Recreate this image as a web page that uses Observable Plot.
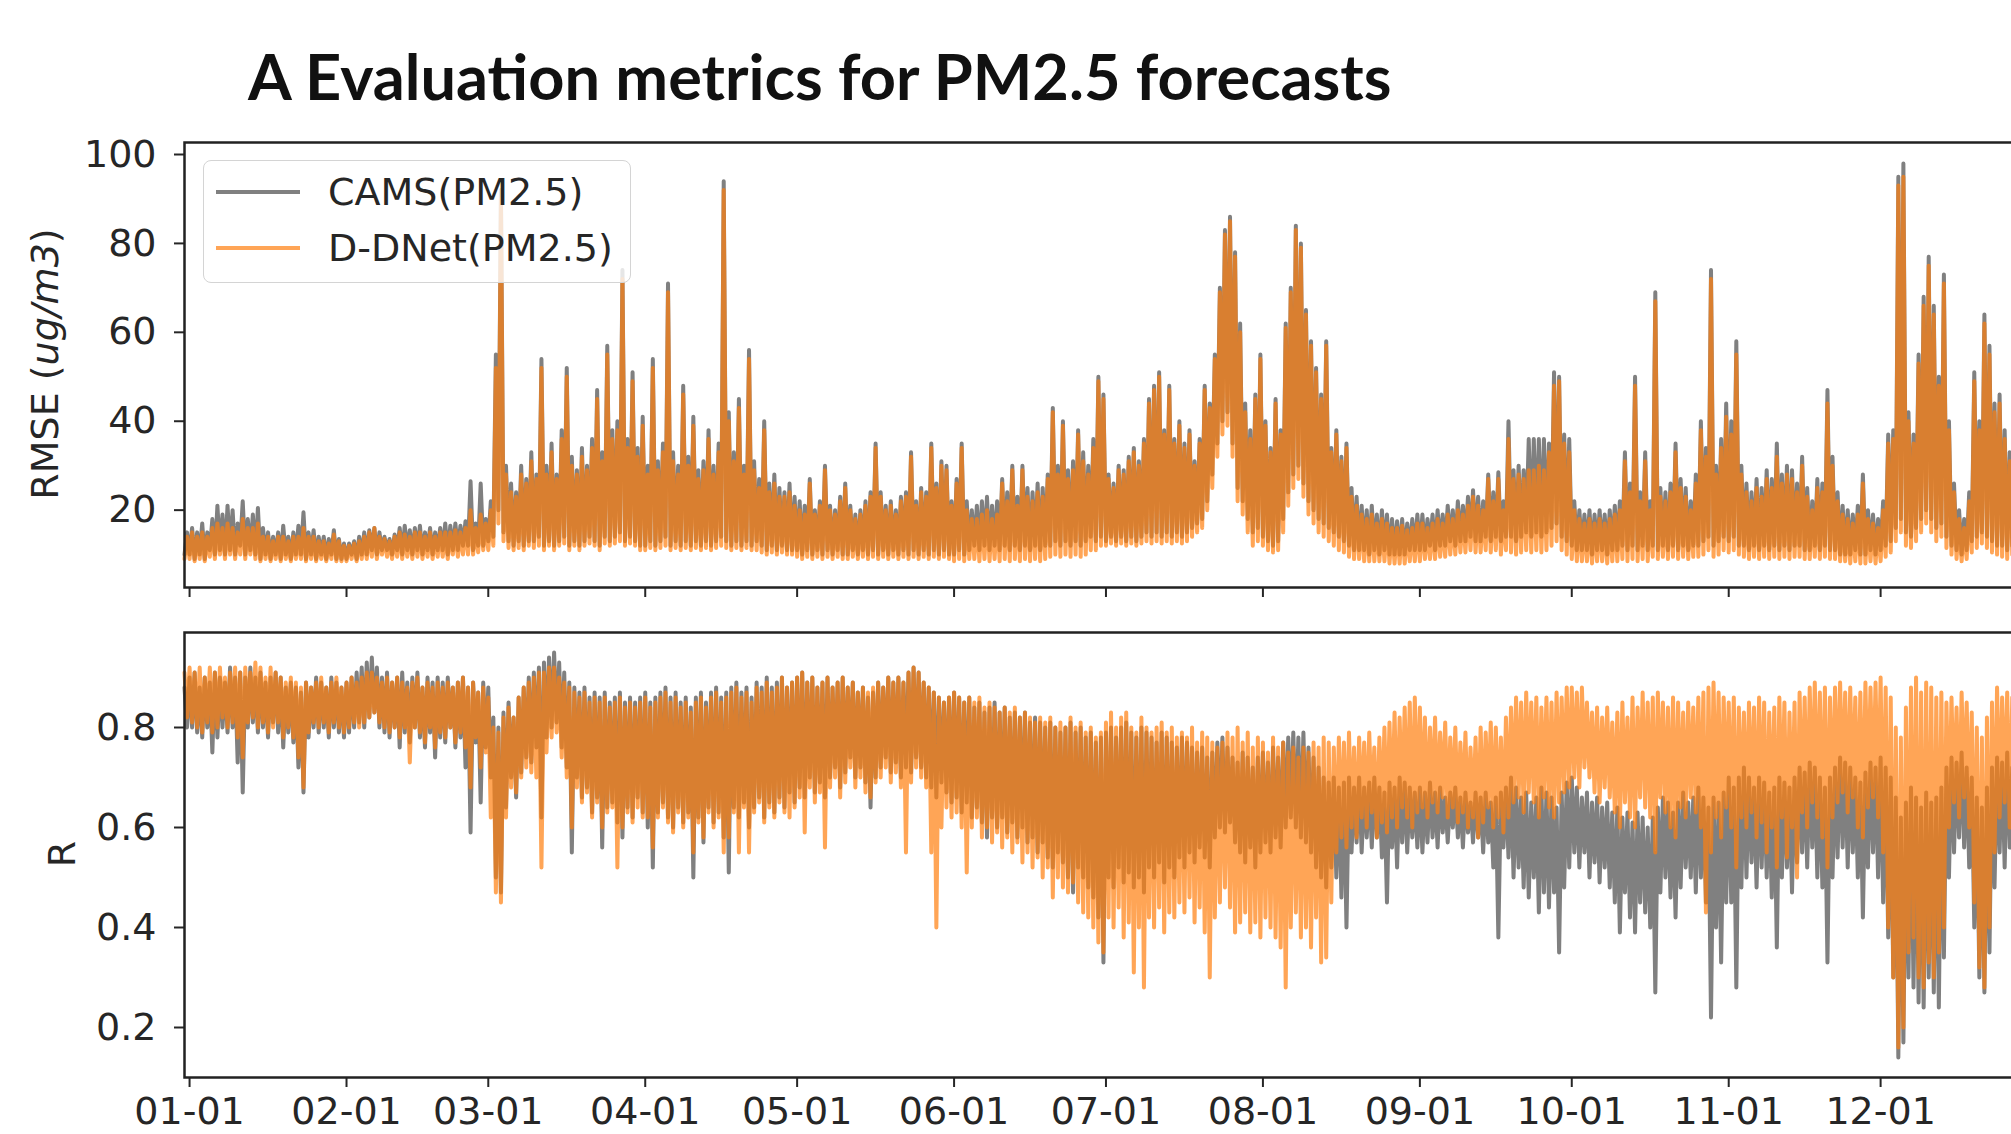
<!DOCTYPE html>
<html>
<head>
<meta charset="utf-8">
<script src="https://cdn.jsdelivr.net/npm/d3@7"></script>
<script src="https://cdn.jsdelivr.net/npm/@observablehq/plot@0.6"></script>
<style>
  html, body { margin: 0; padding: 0; background: #fff; overflow: hidden; }
  #fig { position: relative; width: 2011px; height: 1134px; overflow: hidden; background: #fff;
         font-family: "DejaVu Sans", sans-serif; color: #262626; }
  #title { position: absolute; left: 248px; top: 38px; font-family: Lato, "Open Sans", sans-serif;
           font-weight: 700; font-size: 62px; white-space: nowrap; color: #111; line-height: 1.2; }
  .panel { position: absolute; left: 0; width: 2060px; }
  .panel svg { max-width: none !important; display: block; }
  .ylabel { position: absolute; transform: translate(-50%, -50%) rotate(-90deg); font-size: 38px;
            white-space: nowrap; line-height: 1; }
  #legend { position: absolute; left: 203px; top: 160px; width: 426px; height: 121px;
            border: 1.5px solid #d4d4d4; border-radius: 8px; background: rgba(255,255,255,0.8); }
  .entry { position: absolute; left: 0; height: 44px; width: 100%; }
  .entry .swatch { position: absolute; left: 12px; top: 20px; width: 84px; height: 4px; }
  .entry .name { position: absolute; left: 124px; top: 0; font-size: 38px; line-height: 44px; white-space: nowrap; }
</style>
</head>
<body>
<div id="fig">
  <div id="title">A Evaluation metrics for PM2.5 forecasts</div>
  <div class="panel" id="rmsePanel" style="top:0px"></div>
  <div class="panel" id="rPanel" style="top:600px"></div>
  <div class="ylabel" style="left:45px; top:364px">RMSE (<i>ug/m3</i>)</div>
  <div class="ylabel" style="left:62px; top:854px">R</div>
  <div id="legend">
    <div class="entry" style="top:9px"><div class="swatch" style="background:#808080"></div><div class="name">CAMS(PM2.5)</div></div>
    <div class="entry" style="top:65px"><div class="swatch" style="background:#ff7f0e; opacity:0.7"></div><div class="name">D-DNet(PM2.5)</div></div>
  </div>
</div>
<script>
// Twice-daily samples starting 2020-12-31 00:00 UTC (one pair of values per day).
const seriesStart = Date.UTC(2020, 11, 31);
const stepHours = 12;

// RMSE (ug/m3), CAMS forecasts
const rmseCams = [
  10,15,
  10,16, 9,15, 10,17, 9,15, 11,18, 10,21, 11,19, 10,21, 11,20, 10,17, 12,22, 10,18, 11,19, 10,20.5, 9,16, 10,15, 9,14, 10,15, 9,16.5, 10,14, 9,15, 10,16.5, 10,19.5, 9,15, 10,15.5, 9,14, 10,14, 9,13.5, 10,15.5, 9,13.5, 9,12.5,
  9,12.5, 10,13, 9,14, 10,15, 10,15.5, 11,16, 10,15, 11,14, 11,13.5, 10,14.5, 11,16, 10,16.5, 11,15.5, 10,16, 11,16.5, 10,15, 11,16, 10,15, 11,16, 11,17, 10,16.5, 11,17, 11,16.5, 12,17.5, 12,26.5, 11,17, 12,26, 12,18,
  13,22, 14,55, 20,92, 15,30, 13,26, 12,24, 13,30, 12,27, 13,33, 13,28, 14,54, 12,30, 13,35, 12,28, 13,38, 14,52, 12,32, 13,29, 12,34, 13,30, 14,36, 13,47, 12,33, 14,57, 13,38, 14,40, 15,74, 13,36, 14,51, 13,34, 12,41,
  12,30, 13,54, 12,31, 13,35, 14,71, 12,33, 13,30, 12,48, 13,32, 12,41, 13,29, 12,31, 13,38, 12,30, 13,35, 14,94, 13,42, 12,33, 13,45, 12,30, 13,56, 12,31, 13,27, 12,40, 11,26, 12,28, 11,25, 12,24, 11,26, 11,23,
  11,22, 10,21, 11,27, 10,20, 11,22, 10,30, 11,21, 10,20, 11,23, 10,26, 10,21, 11,19, 10,20, 11,22, 10,24, 11,35, 10,24, 11,21, 10,22, 11,20, 10,23, 11,24, 10,33, 11,22, 10,25, 11,24, 10,35, 11,26, 10,31, 11,30, 10,22,
  10,27, 11,35, 10,22, 11,20, 12,21, 11,22, 12,23, 11,21, 12,22, 11,27, 12,24, 11,30, 12,23, 11,30, 12,25, 11,24, 12,26, 11,25, 12,28, 12,43, 13,30, 12,40, 13,29, 12,31, 13,38, 12,33, 13,30, 14,36, 13,50, 14,46,
  13,28, 14,26, 13,30, 14,29, 13,32, 14,34, 13,31, 14,36, 15,45, 14,48, 15,51, 14,38, 15,48, 14,36, 15,40, 14,35, 15,38, 16,31, 17,36, 18,48, 22,44, 28,55, 35,70, 40,83, 42,86, 35,78, 25,62, 22,44, 18,38, 15,46, 16,55,
  14,40, 13,34, 12,45, 13,38, 18,62, 24,70, 28,84, 30,80, 26,65, 22,58, 20,52, 18,46, 17,58, 16,34, 15,38, 14,32, 13,35, 12,25, 11,23, 11,21, 11,20, 10,21, 11,19, 10,20, 11,19, 10,18, 10,17.5, 10,18, 10,17, 11,18, 11,19,
  11,19, 11,18, 12,19, 11,20, 12,19, 12,21, 13,20, 12,22, 13,21, 13,23, 14,24.5, 13,23, 13,22, 14,28, 13,24, 14,28.5, 13,22, 14,40, 14,29, 13,30, 14,29, 15,36, 14,36, 15,36, 14,36, 15,35, 16,51, 17,50, 14,37, 13,36,
  12,22, 11,20, 11,19, 11,20, 10,19, 11,20, 11,19, 10,20, 11,21, 11,22, 12,33, 11,26, 12,50, 11,24, 12,33, 11,22, 12,69, 11,25, 12,24, 11,26, 12,35, 11,27, 12,25, 11,22, 12,28, 12,40, 13,34, 14,74, 12,30, 13,36, 14,44,
  13,40, 14,58, 12,30, 12,26, 11,24, 12,27, 11,25, 12,29, 11,27, 12,35, 11,28, 12,30, 11,29, 12,26, 12,32, 11,25, 11,22, 12,27, 11,26, 12,47, 11,32, 11,24, 10,21, 10,20, 10,19, 11,21, 10,28, 10,20, 11,19, 10,18,
  11,22, 12,37, 13,38, 16,95, 18,98, 15,42, 14,37, 16,55, 18,68, 20,77, 18,66, 16,50, 17,73, 14,40, 12,26, 11,20, 10,18, 11,24, 13,51, 14,40, 15,64, 14,57, 13,44, 12,46, 12,38, 11,33, 12,30
];

// RMSE (ug/m3), D-DNet forecasts
const rmseDdnet = [
  9,14,
  9,15, 8.5,14, 9,15, 8.5,14, 9.5,16, 9,17, 10,16, 9,17, 10,16, 9,15, 10,18, 9,16, 10,16, 9,17, 8.5,14, 9,14, 8.5,13, 9,14, 8.5,14, 9,13, 8.5,14, 9,14, 9,16, 8.5,14, 9,14, 8.5,13, 9,13, 8.5,12.5, 9,14.5, 8.5,13, 8.5,12,
  8.5,12, 9,12.5, 8.5,13, 9,14, 9,15, 9.5,16, 9,14, 10,13.5, 9.5,13, 9,14, 9.5,15, 9,14.5, 9.5,14, 9,15, 9.5,15, 9,14, 9.5,15, 9,14, 9.5,15, 9.5,15, 9,15, 10,15.5, 9.5,15, 10,16, 10,20, 10,16, 10.5,19, 11,17,
  11,20, 12,52, 17,90, 13,28, 11.5,24, 11,23, 11.5,28, 11,26, 12,31, 11.5,27, 12,52, 11,28, 12,33, 11,27, 12,36, 12.5,50, 11,30, 12,28, 11,32, 12,29, 12.5,34, 12,45, 11,31, 12.5,55, 12,36, 12.5,38, 13,72, 12,34, 12.5,49, 12,32, 11,39,
  11,28, 11.5,52, 11,29, 11.5,33, 12,69, 11,31, 11.5,28, 11,46, 11.5,30, 11,39, 11.5,27, 11,29, 11.5,36, 11,28, 11.5,33, 12,92, 11.5,40, 11,31, 11.5,43, 11,28, 11.5,54, 11,29, 11,25, 10.5,38, 10,24, 10.5,26, 10,23, 10.5,23, 10,24, 10,21,
  9.5,20, 9,19, 9.5,26, 9,19, 9.5,21, 9,29, 9.5,20, 9,19, 9.5,22, 9,25, 9,20, 9.5,18, 9,19, 9.5,21, 9,23, 9.5,34, 9,23, 9.5,20, 9,21, 9.5,19, 9,22, 9.5,23, 9,32, 9.5,21, 9,24, 9.5,23, 9,34, 9.5,25, 9,30, 9.5,29, 9,21,
  8.5,26, 9,34, 8.5,20, 9,18, 9,18, 8.5,19, 9,20, 8.5,18, 9,19, 8.5,26, 9,22, 8.5,29, 9,21, 8.5,29, 9,23, 8.5,22, 9,24, 8.5,23, 9,27, 9.5,42, 10,28, 9.5,39, 10,27, 9.5,29, 10,37, 9.5,31, 10,28, 11,34, 11,49, 12,45,
  12,27, 12.5,25, 12,29, 12.5,28, 12,31, 12.5,33, 12,30, 12.5,35, 13,44, 12.5,47, 13,50, 12.5,37, 13,47, 12.5,35, 13,39, 12.5,34, 13,37, 14,30, 15,35, 16,47, 20,43, 25,54, 32,69, 37,82, 39,85, 32,77, 22,60, 19,42, 15,36, 12,45, 13,54,
  12,39, 11,33, 10.5,44, 11,37, 15,61, 21,69, 25,83, 27,79, 23,64, 19,57, 17,51, 15,45, 14,57, 13,33, 12,37, 11,31, 10.5,34, 9.5,23, 9,21, 9,19, 8.5,18, 8.5,19, 8.5,17, 8.5,18, 8.5,17, 8,16, 8,16, 8,16.5, 8,15.5, 8.5,16, 8.5,17,
  8.5,17, 9,16, 9,17, 9,18, 9.5,17, 9.5,19, 10,18, 10,20, 10.5,19, 10.5,21, 11,23, 10.5,21, 10.5,20, 11,27, 10.5,22, 11,27, 10,20, 11,36, 10.5,27, 10,28, 10.5,27, 11,29, 10.5,29, 11,30, 10.5,29, 11,33, 12,48, 13,49, 11,35, 10,33,
  9,20, 8.5,18, 8.5,17, 8.5,18, 8,17, 8.5,18, 8.5,17, 8,18, 8.5,19, 8.5,20, 9,31, 8.5,24, 9,48, 8.5,22, 9,31, 8.5,20, 9.5,67, 9,23, 9.5,22, 9,24, 9.5,33, 9,25, 9.5,23, 9,20, 9.5,26, 9.5,38, 10,32, 11,72, 9.5,28, 10,34, 11,41,
  10.5,37, 11,55, 10,28, 9.5,24, 9,22, 9.5,25, 9,23, 9.5,27, 9,25, 9.5,32, 9,26, 9.5,28, 9,27, 9.5,24, 9.5,30, 9,23, 9,20, 9.5,25, 9,24, 9.5,44, 9,30, 9,22, 8.5,19, 8.5,18, 8,17, 8.5,19, 8,26, 8,18, 8.5,17, 8,16,
  8.5,20, 9.5,35, 10.5,36, 13,93, 15,95, 12,40, 11.5,35, 13,53, 15,66, 17,75, 15,64, 13,48, 14,71, 11.5,38, 10,24, 9,18, 8.5,16, 9,22, 10.5,49, 11.5,38, 12.5,62, 11.5,55, 10.5,42, 10,44, 9.5,36, 9,31, 10,28
];

// Correlation coefficient R, CAMS forecasts
const rCams = [
  0.88,0.80,
  0.90,0.80, 0.91,0.79, 0.88,0.78, 0.90,0.80, 0.89,0.75, 0.91,0.78, 0.90,0.80, 0.89,0.79, 0.92,0.80, 0.90,0.73, 0.91,0.67, 0.90,0.80, 0.92,0.81, 0.90,0.79, 0.91,0.80, 0.89,0.78, 0.90,0.81, 0.91,0.79, 0.90,0.76, 0.88,0.79, 0.89,0.77, 0.88,0.72, 0.87,0.67, 0.89,0.78, 0.88,0.80, 0.90,0.79, 0.89,0.80, 0.88,0.78, 0.90,0.80, 0.89,0.79, 0.88,0.78,
  0.89,0.79, 0.90,0.80, 0.91,0.81, 0.92,0.80, 0.93,0.82, 0.94,0.83, 0.92,0.80, 0.90,0.79, 0.91,0.78, 0.89,0.80, 0.90,0.76, 0.91,0.79, 0.89,0.77, 0.90,0.80, 0.91,0.78, 0.88,0.76, 0.90,0.79, 0.89,0.74, 0.90,0.78, 0.89,0.77, 0.90,0.80, 0.88,0.76, 0.89,0.78, 0.90,0.72, 0.88,0.59, 0.89,0.77, 0.87,0.65, 0.89,0.76,
  0.88,0.70, 0.82,0.50, 0.80,0.47, 0.83,0.64, 0.85,0.70, 0.82,0.66, 0.86,0.71, 0.88,0.74, 0.90,0.73, 0.91,0.76, 0.92,0.62, 0.93,0.78, 0.94,0.80, 0.95,0.81, 0.93,0.76, 0.91,0.72, 0.89,0.55, 0.88,0.70, 0.87,0.66, 0.88,0.68, 0.86,0.63, 0.87,0.66, 0.86,0.56, 0.87,0.64, 0.85,0.65, 0.86,0.61, 0.87,0.58, 0.85,0.64, 0.86,0.62, 0.85,0.66, 0.86,0.63,
  0.87,0.60, 0.85,0.52, 0.86,0.63, 0.87,0.65, 0.88,0.62, 0.86,0.60, 0.87,0.64, 0.85,0.61, 0.86,0.63, 0.84,0.50, 0.86,0.62, 0.87,0.57, 0.85,0.64, 0.87,0.61, 0.88,0.63, 0.86,0.58, 0.87,0.51, 0.88,0.64, 0.89,0.62, 0.87,0.65, 0.88,0.60, 0.86,0.64, 0.89,0.66, 0.88,0.62, 0.90,0.65, 0.88,0.63, 0.89,0.66, 0.90,0.64, 0.88,0.67, 0.89,0.65,
  0.90,0.68, 0.91,0.66, 0.89,0.70, 0.90,0.67, 0.88,0.69, 0.89,0.66, 0.90,0.70, 0.88,0.72, 0.89,0.68, 0.90,0.71, 0.88,0.74, 0.89,0.70, 0.87,0.72, 0.88,0.69, 0.86,0.64, 0.87,0.70, 0.89,0.72, 0.88,0.74, 0.90,0.71, 0.89,0.73, 0.90,0.70, 0.89,0.72, 0.91,0.71, 0.92,0.74, 0.91,0.72, 0.89,0.70, 0.88,0.68, 0.87,0.66, 0.86,0.69, 0.85,0.67, 0.86,0.65,
  0.87,0.66, 0.86,0.63, 0.85,0.65, 0.86,0.62, 0.84,0.64, 0.85,0.61, 0.83,0.58, 0.84,0.62, 0.85,0.60, 0.83,0.62, 0.84,0.59, 0.82,0.61, 0.83,0.58, 0.82,0.60, 0.83,0.57, 0.81,0.58, 0.82,0.55, 0.81,0.57, 0.80,0.54, 0.81,0.52, 0.80,0.55, 0.79,0.53, 0.80,0.50, 0.81,0.47, 0.79,0.52, 0.80,0.50, 0.78,0.48, 0.79,0.46, 0.77,0.42, 0.78,0.33,
  0.79,0.50, 0.80,0.48, 0.78,0.52, 0.80,0.49, 0.81,0.51, 0.79,0.48, 0.78,0.50, 0.80,0.47, 0.79,0.52, 0.78,0.50, 0.77,0.53, 0.79,0.49, 0.78,0.52, 0.77,0.50, 0.76,0.54, 0.78,0.52, 0.77,0.55, 0.76,0.53, 0.75,0.56, 0.76,0.54, 0.74,0.52, 0.75,0.58, 0.77,0.60, 0.78,0.59, 0.76,0.61, 0.74,0.57, 0.73,0.55, 0.75,0.53, 0.74,0.56, 0.72,0.52, 0.74,0.55,
  0.75,0.57, 0.73,0.55, 0.76,0.58, 0.74,0.56, 0.77,0.60, 0.78,0.62, 0.79,0.60, 0.78,0.58, 0.79,0.57, 0.76,0.55, 0.74,0.52, 0.72,0.50, 0.70,0.48, 0.69,0.52, 0.70,0.50, 0.68,0.46, 0.69,0.40, 0.70,0.55, 0.68,0.57, 0.70,0.55, 0.68,0.58, 0.69,0.56, 0.70,0.58, 0.68,0.54, 0.67,0.45, 0.69,0.56, 0.68,0.52, 0.70,0.57, 0.69,0.55, 0.68,0.58, 0.67,0.56,
  0.68,0.55, 0.67,0.57, 0.69,0.58, 0.67,0.56, 0.68,0.59, 0.66,0.57, 0.67,0.60, 0.68,0.58, 0.66,0.56, 0.67,0.59, 0.65,0.57, 0.67,0.58, 0.66,0.55, 0.67,0.57, 0.65,0.52, 0.66,0.38, 0.67,0.56, 0.68,0.54, 0.70,0.50, 0.68,0.52, 0.66,0.48, 0.67,0.46, 0.65,0.50, 0.66,0.43, 0.68,0.47, 0.67,0.44, 0.66,0.47, 0.64,0.35, 0.67,0.48, 0.69,0.52,
  0.70,0.55, 0.68,0.52, 0.66,0.55, 0.67,0.50, 0.65,0.53, 0.66,0.49, 0.64,0.52, 0.65,0.48, 0.63,0.45, 0.64,0.39, 0.62,0.47, 0.63,0.42, 0.61,0.39, 0.63,0.45, 0.62,0.43, 0.60,0.40, 0.62,0.27, 0.64,0.47, 0.66,0.50, 0.65,0.46, 0.63,0.42, 0.65,0.48, 0.67,0.52, 0.65,0.50, 0.66,0.47, 0.68,0.50, 0.66,0.45, 0.64,0.22, 0.66,0.40, 0.65,0.33, 0.67,0.45,
  0.70,0.45, 0.68,0.28, 0.70,0.48, 0.72,0.50, 0.70,0.53, 0.68,0.48, 0.70,0.52, 0.69,0.50, 0.67,0.46, 0.68,0.36, 0.70,0.50, 0.69,0.52, 0.68,0.47, 0.70,0.53, 0.72,0.55, 0.71,0.52, 0.73,0.56, 0.72,0.50, 0.70,0.48, 0.68,0.33, 0.70,0.50, 0.72,0.54, 0.74,0.56, 0.73,0.52, 0.72,0.55, 0.70,0.50, 0.69,0.42, 0.71,0.52, 0.73,0.55, 0.72,0.50,
  0.74,0.45, 0.72,0.38, 0.70,0.30, 0.66,0.14, 0.62,0.17, 0.65,0.30, 0.68,0.28, 0.66,0.25, 0.64,0.24, 0.67,0.30, 0.65,0.27, 0.66,0.24, 0.68,0.34, 0.72,0.50, 0.74,0.55, 0.73,0.58, 0.75,0.56, 0.72,0.52, 0.70,0.40, 0.66,0.30, 0.64,0.27, 0.68,0.35, 0.72,0.48, 0.74,0.55, 0.73,0.52, 0.75,0.56, 0.72,0.50
];

// Correlation coefficient R, D-DNet forecasts
const rDdnet = [
  0.91,0.82,
  0.92,0.81, 0.91,0.80, 0.92,0.79, 0.90,0.81, 0.92,0.79, 0.91,0.80, 0.92,0.82, 0.90,0.80, 0.91,0.81, 0.92,0.78, 0.91,0.74, 0.92,0.81, 0.91,0.82, 0.93,0.80, 0.92,0.81, 0.90,0.79, 0.92,0.80, 0.91,0.81, 0.90,0.78, 0.89,0.80, 0.90,0.78, 0.89,0.74, 0.88,0.68, 0.89,0.79, 0.88,0.81, 0.89,0.80, 0.90,0.81, 0.88,0.79, 0.89,0.81, 0.90,0.80, 0.88,0.79,
  0.89,0.80, 0.90,0.81, 0.89,0.80, 0.90,0.81, 0.91,0.82, 0.91,0.83, 0.90,0.81, 0.89,0.80, 0.90,0.79, 0.89,0.80, 0.90,0.78, 0.89,0.80, 0.88,0.73, 0.89,0.80, 0.90,0.79, 0.88,0.77, 0.89,0.80, 0.88,0.76, 0.89,0.79, 0.88,0.78, 0.89,0.80, 0.88,0.77, 0.89,0.79, 0.90,0.76, 0.88,0.68, 0.89,0.78, 0.87,0.72, 0.88,0.75,
  0.86,0.62, 0.80,0.47, 0.79,0.45, 0.82,0.62, 0.84,0.68, 0.82,0.67, 0.86,0.70, 0.88,0.72, 0.89,0.71, 0.90,0.70, 0.91,0.52, 0.91,0.75, 0.92,0.78, 0.92,0.79, 0.90,0.74, 0.89,0.70, 0.88,0.60, 0.87,0.68, 0.86,0.65, 0.87,0.67, 0.85,0.62, 0.86,0.65, 0.85,0.60, 0.86,0.63, 0.84,0.64, 0.85,0.52, 0.86,0.60, 0.84,0.63, 0.85,0.61, 0.84,0.64, 0.85,0.62,
  0.86,0.62, 0.84,0.56, 0.85,0.62, 0.86,0.64, 0.87,0.61, 0.85,0.59, 0.86,0.63, 0.84,0.60, 0.85,0.62, 0.83,0.55, 0.85,0.61, 0.86,0.58, 0.84,0.63, 0.86,0.60, 0.87,0.62, 0.85,0.55, 0.86,0.58, 0.87,0.63, 0.88,0.55, 0.86,0.64, 0.87,0.55, 0.85,0.63, 0.88,0.65, 0.87,0.61, 0.89,0.64, 0.87,0.62, 0.88,0.65, 0.90,0.63, 0.88,0.62, 0.89,0.64,
  0.90,0.66, 0.91,0.59, 0.89,0.68, 0.90,0.65, 0.88,0.67, 0.89,0.56, 0.90,0.68, 0.88,0.70, 0.89,0.66, 0.90,0.69, 0.88,0.72, 0.89,0.68, 0.87,0.70, 0.88,0.67, 0.87,0.66, 0.88,0.69, 0.89,0.70, 0.88,0.72, 0.90,0.69, 0.89,0.71, 0.90,0.68, 0.89,0.55, 0.91,0.69, 0.92,0.72, 0.91,0.70, 0.89,0.68, 0.88,0.55, 0.87,0.40, 0.86,0.60, 0.85,0.64, 0.86,0.62,
  0.87,0.63, 0.86,0.60, 0.85,0.51, 0.86,0.60, 0.85,0.62, 0.86,0.58, 0.84,0.60, 0.85,0.57, 0.84,0.59, 0.83,0.56, 0.84,0.58, 0.83,0.55, 0.84,0.57, 0.82,0.53, 0.83,0.55, 0.82,0.52, 0.81,0.54, 0.82,0.50, 0.81,0.52, 0.82,0.46, 0.80,0.50, 0.81,0.48, 0.80,0.47, 0.82,0.49, 0.80,0.45, 0.81,0.43, 0.79,0.42, 0.80,0.40, 0.78,0.37, 0.79,0.35,
  0.81,0.42, 0.83,0.40, 0.80,0.44, 0.82,0.38, 0.83,0.41, 0.80,0.31, 0.79,0.40, 0.82,0.28, 0.80,0.42, 0.79,0.40, 0.80,0.44, 0.81,0.39, 0.79,0.43, 0.80,0.42, 0.78,0.45, 0.79,0.43, 0.78,0.46, 0.80,0.41, 0.77,0.44, 0.79,0.39, 0.78,0.30, 0.77,0.42, 0.76,0.45, 0.77,0.48, 0.79,0.44, 0.78,0.39, 0.80,0.41, 0.77,0.43, 0.79,0.39, 0.76,0.41, 0.78,0.38,
  0.77,0.42, 0.75,0.40, 0.78,0.38, 0.76,0.36, 0.77,0.28, 0.75,0.40, 0.76,0.43, 0.74,0.38, 0.76,0.40, 0.75,0.36, 0.77,0.42, 0.76,0.33, 0.78,0.34, 0.77,0.45, 0.76,0.55, 0.78,0.58, 0.77,0.56, 0.79,0.60, 0.76,0.58, 0.78,0.62, 0.77,0.60, 0.79,0.63, 0.76,0.58, 0.78,0.61, 0.80,0.59, 0.81,0.62, 0.83,0.60, 0.82,0.64, 0.84,0.62, 0.85,0.60, 0.86,0.63,
  0.84,0.64, 0.82,0.62, 0.80,0.65, 0.82,0.63, 0.79,0.66, 0.81,0.62, 0.78,0.64, 0.80,0.61, 0.77,0.63, 0.79,0.60, 0.76,0.62, 0.78,0.58, 0.80,0.61, 0.79,0.64, 0.81,0.60, 0.80,0.62, 0.78,0.59, 0.82,0.62, 0.84,0.65, 0.86,0.66, 0.85,0.63, 0.87,0.67, 0.85,0.65, 0.86,0.62, 0.84,0.66, 0.86,0.64, 0.85,0.62, 0.87,0.65, 0.86,0.67, 0.88,0.68,
  0.88,0.70, 0.87,0.68, 0.88,0.72, 0.85,0.70, 0.83,0.67, 0.84,0.65, 0.82,0.68, 0.84,0.66, 0.81,0.63, 0.83,0.60, 0.85,0.65, 0.82,0.62, 0.86,0.60, 0.84,0.66, 0.87,0.64, 0.85,0.62, 0.86,0.55, 0.87,0.66, 0.85,0.63, 0.84,0.60, 0.86,0.58, 0.85,0.64, 0.83,0.62, 0.85,0.66, 0.84,0.63, 0.86,0.60, 0.87,0.43, 0.88,0.55, 0.89,0.62, 0.87,0.58, 0.86,0.64,
  0.85,0.60, 0.86,0.52, 0.84,0.62, 0.83,0.60, 0.85,0.63, 0.84,0.58, 0.86,0.61, 0.85,0.55, 0.83,0.60, 0.84,0.52, 0.86,0.62, 0.85,0.54, 0.83,0.60, 0.85,0.50, 0.87,0.63, 0.86,0.60, 0.88,0.65, 0.89,0.62, 0.87,0.58, 0.88,0.52, 0.86,0.62, 0.88,0.65, 0.89,0.67, 0.87,0.63, 0.88,0.66, 0.86,0.60, 0.87,0.58, 0.89,0.64, 0.88,0.66, 0.89,0.62,
  0.90,0.55, 0.88,0.40, 0.86,0.30, 0.80,0.16, 0.78,0.20, 0.84,0.35, 0.88,0.38, 0.90,0.30, 0.87,0.28, 0.89,0.33, 0.88,0.30, 0.86,0.35, 0.87,0.40, 0.85,0.60, 0.86,0.65, 0.84,0.62, 0.87,0.66, 0.85,0.60, 0.83,0.45, 0.80,0.32, 0.78,0.28, 0.82,0.40, 0.85,0.55, 0.88,0.62, 0.86,0.65, 0.87,0.60, 0.86,0.62
];

const rmseTicks = [20, 40, 60, 80, 100];
const rTicks = [0.2, 0.4, 0.6, 0.8];
const monthTicks = d3.utcMonths(new Date(Date.UTC(2021, 0, 1)), new Date(Date.UTC(2021, 11, 2)));

const xDomain = [new Date(Date.UTC(2020, 11, 31)), new Date(Date.UTC(2021, 11, 31))];
const rmseDomain = [2.6, 102.7];
const rDomain = [0.1, 0.99];

const toRows = (values) => values.map((v, i) => ({ date: new Date(seriesStart + i * stepHours * 3600e3), value: v }));

const camsColor = "#808080";
const ddnetColor = "#ff7f0e";
const W = 2060;
const frameRight = 2032;
const axisStyle = { fontFamily: "DejaVu Sans, sans-serif", fontSize: "38px", color: "#262626", background: "transparent", overflow: "visible", maxWidth: "none" };

function panel({ height, marginTop, marginBottom, yDomain, yTicks, yFormat, cams, ddnet, xLabels }) {
  return Plot.plot({
    width: W, height,
    marginLeft: 184, marginRight: W - frameRight, marginTop, marginBottom,
    style: axisStyle,
    x: { type: "utc", domain: xDomain },
    y: { domain: yDomain },
    marks: [
      Plot.line(toRows(cams), { x: "date", y: "value", stroke: camsColor, strokeWidth: 4 }),
      Plot.line(toRows(ddnet), { x: "date", y: "value", stroke: ddnetColor, strokeOpacity: 0.7, strokeWidth: 4 }),
      Plot.axisY({ ticks: yTicks, tickFormat: yFormat, tickSize: 10, tickPadding: 18, strokeWidth: 2, label: null }),
      Plot.axisX({ ticks: monthTicks, tickSize: 10, tickPadding: 10, strokeWidth: 2, label: null,
                   tickFormat: xLabels ? d3.utcFormat("%m-%d") : () => "" }),
      Plot.frame({ stroke: "#222", strokeWidth: 2.5 })
    ]
  });
}

document.getElementById("rmsePanel").append(panel({
  height: 600, marginTop: 142, marginBottom: 13,
  yDomain: rmseDomain, yTicks: rmseTicks, yFormat: d3.format("d"),
  cams: rmseCams, ddnet: rmseDdnet, xLabels: false
}));

document.getElementById("rPanel").append(panel({
  height: 534, marginTop: 32, marginBottom: 57,
  yDomain: rDomain, yTicks: rTicks, yFormat: d3.format(".1f"),
  cams: rCams, ddnet: rDdnet, xLabels: true
}));

// Size the title so it spans the same width as the heading above the panels.
(function fitTitle() {
  const el = document.getElementById("title");
  const ctx = document.createElement("canvas").getContext("2d");
  ctx.font = "700 100px Lato";
  const w = ctx.measureText(el.textContent).width;
  el.style.fontSize = (100 * 1147 / w).toFixed(1) + "px";
})();
</script>
</body>
</html>
